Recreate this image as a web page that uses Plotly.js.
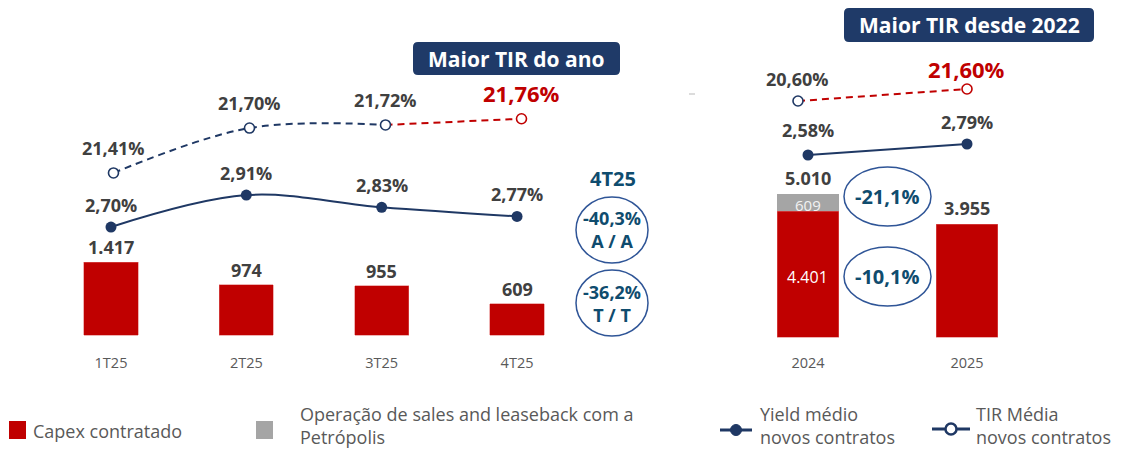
<!DOCTYPE html>
<html>
<head>
<meta charset="utf-8">
<script src="https://cdn.plot.ly/plotly-3.0.1.min.js"></script>
<style>html,body{margin:0;padding:0;background:#fff;}#chart{width:1126px;height:450px;}</style>
</head>
<body>
<div id="chart"></div>
<script>
// ---- data ----
const quarters = ['1T25', '2T25', '3T25', '4T25'];
const capexQ = [1417, 974, 955, 609];
const yieldQ = [2.70, 2.91, 2.83, 2.77];
const tirQ = [21.41, 21.70, 21.72, 21.76];

const years = ['2024', '2025'];
const capexY = [4401, 3955];
const leasebackY = [609, 0];
const yieldY = [2.58, 2.79];
const tirY = [20.60, 21.60];

const varQLabel = ['-40,3%', '-36,2%'];
const varQBasis = ['A / A', 'T / T'];
const varQTitle = '4T25';
const varYLabel = ['-21,1%', '-10,1%'];

const boxLeft = 'Maior TIR do ano';
const boxRight = 'Maior TIR desde 2022';

const legendNames = ['Capex contratado', 'Operação de sales and leaseback com a<br>Petrópolis',
                     'Yield médio<br>novos contratos', 'TIR Média<br>novos contratos'];

// ---- helpers ----
const W = 1126, H = 450;
const px = x => x / W;
const py = y => 1 - y / H;
const RED = '#C00000', GRAY = '#A5A5A5', NAVY = '#1F3864', DARK = '#404040', TEAL = '#0F4C6E', LEG = '#595959';
const FONT = '"Open Sans", "Noto Sans", sans-serif';

function fmtInt(v) { return String(Math.round(v)).replace(/\B(?=(\d{3})+(?!\d))/g, '.'); }
function fmtPct(v) { return v.toFixed(2).replace('.', ',') + '%'; }

function lab(x, y, xref, yref, text, opt) {
  opt = opt || {};
  return {
    x: x, y: y, xref: xref, yref: yref, text: text, showarrow: false,
    xanchor: opt.xanchor || 'center', yanchor: opt.yanchor || 'middle',
    yshift: opt.yshift || 0, xshift: opt.xshift || 0, align: opt.align || 'center',
    borderpad: 0,
    font: {family: FONT, size: opt.size || 18, color: opt.color || DARK, weight: opt.weight || 700}
  };
}

function roundRect(x0, y0, x1, y1, r) {
  const rx = r / W, ry = r / H;
  const X0 = px(x0), X1 = px(x1), Y0 = py(y0), Y1 = py(y1);
  return 'M' + (X0 + rx) + ',' + Y0 + ' L' + (X1 - rx) + ',' + Y0 +
    ' Q' + X1 + ',' + Y0 + ' ' + X1 + ',' + (Y0 - ry) +
    ' L' + X1 + ',' + (Y1 + ry) + ' Q' + X1 + ',' + Y1 + ' ' + (X1 - rx) + ',' + Y1 +
    ' L' + (X0 + rx) + ',' + Y1 + ' Q' + X0 + ',' + Y1 + ' ' + X0 + ',' + (Y1 + ry) +
    ' L' + X0 + ',' + (Y0 - ry) + ' Q' + X0 + ',' + Y0 + ' ' + (X0 + rx) + ',' + Y0 + ' Z';
}

// ---- traces ----
const traces = [];
traces.push({type: 'bar', x: quarters, y: capexQ, xaxis: 'x', yaxis: 'y', width: 0.4,
  marker: {color: RED, line: {color: '#E06666', width: 0.5}}, hoverinfo: 'skip'});
traces.push({type: 'bar', x: years, y: capexY, xaxis: 'x2', yaxis: 'y4', width: 0.385,
  marker: {color: RED, line: {color: '#E06666', width: 0.5}}, hoverinfo: 'skip'});
traces.push({type: 'bar', x: years, y: leasebackY, xaxis: 'x2', yaxis: 'y4', width: 0.385,
  marker: {color: GRAY}, hoverinfo: 'skip'});

traces.push({type: 'scatter', mode: 'lines+markers', x: quarters, y: yieldQ, xaxis: 'x', yaxis: 'y2',
  line: {color: NAVY, width: 2, shape: 'spline', smoothing: 1}, marker: {color: NAVY, size: 11}, cliponaxis: false, hoverinfo: 'skip'});

const lastQ = tirQ.length - 1;
traces.push({type: 'scatter', mode: 'lines', x: quarters.slice(0, lastQ), y: tirQ.slice(0, lastQ), xaxis: 'x3', yaxis: 'y3',
  line: {color: NAVY, width: 2, dash: '7px,5px', shape: 'spline', smoothing: 1}, hoverinfo: 'skip'});
traces.push({type: 'scatter', mode: 'lines', x: quarters.slice(lastQ - 1), y: tirQ.slice(lastQ - 1), xaxis: 'x3', yaxis: 'y3',
  line: {color: RED, width: 2, dash: '7px,5px'}, hoverinfo: 'skip'});
traces.push({type: 'scatter', mode: 'markers', x: quarters, y: tirQ, xaxis: 'x3', yaxis: 'y3', cliponaxis: false,
  marker: {color: '#FFFFFF', size: 10, line: {width: 1.6, color: tirQ.map((v, i) => i === lastQ ? RED : NAVY)}}, hoverinfo: 'skip'});

traces.push({type: 'scatter', mode: 'lines+markers', x: years, y: yieldY, xaxis: 'x2', yaxis: 'y5',
  line: {color: NAVY, width: 2}, marker: {color: NAVY, size: 11}, cliponaxis: false, hoverinfo: 'skip'});
traces.push({type: 'scatter', mode: 'lines', x: years, y: tirY, xaxis: 'x4', yaxis: 'y6',
  line: {color: RED, width: 2, dash: '7px,5px'}, hoverinfo: 'skip'});
traces.push({type: 'scatter', mode: 'markers', x: years, y: tirY, xaxis: 'x4', yaxis: 'y6', cliponaxis: false,
  marker: {color: '#FFFFFF', size: 10, line: {width: 1.6, color: tirY.map((v, i) => i === tirY.length - 1 ? RED : NAVY)}}, hoverinfo: 'skip'});

// ---- annotations ----
// (year categories look numeric, so annotations on the year axes use the category index)
const ann = [];
capexQ.forEach((v, i) => ann.push(lab(quarters[i], v, 'x', 'y', fmtInt(v), {yshift: 15})));
capexY.forEach((v, i) => {
  const tot = v + leasebackY[i];
  ann.push(lab(i, tot, 'x2', 'y4', fmtInt(tot), {yshift: 16}));
  if (leasebackY[i] > 0) {
    ann.push(lab(i, v + leasebackY[i] / 2, 'x2', 'y4', fmtInt(leasebackY[i]), {size: 15, weight: 400, color: '#F2F2F2', yshift: -2}));
    ann.push(lab(i, v / 2, 'x2', 'y4', fmtInt(v), {size: 16, weight: 400, color: '#FFFFFF', yshift: -3}));
  }
});
yieldQ.forEach((v, i) => ann.push(lab(quarters[i], v, 'x', 'y2', fmtPct(v), {yshift: 22})));
tirQ.forEach((v, i) => ann.push(i === lastQ
  ? lab(quarters[i], v, 'x3', 'y3', fmtPct(v), {yshift: 26, size: 22, color: RED})
  : lab(quarters[i], v, 'x3', 'y3', fmtPct(v), {yshift: 25})));
yieldY.forEach((v, i) => ann.push(lab(i, v, 'x2', 'y5', fmtPct(v), {yshift: i === 0 ? 25 : 22})));
tirY.forEach((v, i) => ann.push(i === tirY.length - 1
  ? lab(i, v, 'x4', 'y6', fmtPct(v), {yshift: 20, size: 22, color: RED})
  : lab(i, v, 'x4', 'y6', fmtPct(v), {yshift: 22})));

// variation callouts
ann.push(lab(px(613), py(178), 'paper', 'paper', varQTitle, {size: 20, color: TEAL}));
const qEll = [[197, 263], [270, 336]];
varQLabel.forEach((t, i) => {
  const cy = (qEll[i][0] + qEll[i][1]) / 2;
  ann.push(lab(px(612), py(cy), 'paper', 'paper', t + '<br>' + varQBasis[i], {size: 18, color: TEAL}));
});
const yEll = [[167, 226], [247, 306]];
varYLabel.forEach((t, i) => {
  const cy = (yEll[i][0] + yEll[i][1]) / 2;
  ann.push(lab(px(887), py(cy), 'paper', 'paper', t, {size: 20, color: TEAL}));
});

// header boxes
ann.push(lab(px(516.5), py(58.5), 'paper', 'paper', boxLeft, {size: 21, color: '#FFFFFF'}));
ann.push(lab(px(969), py(25), 'paper', 'paper', boxRight, {size: 21, color: '#FFFFFF'}));

// legend texts
const legOpt = {size: 18, weight: 400, color: LEG, xanchor: 'left', align: 'left'};
ann.push(lab(px(32), py(431), 'paper', 'paper', legendNames[0], legOpt));
const legBottom = Object.assign({}, legOpt, {yanchor: 'bottom'});
ann.push(lab(px(299), py(450), 'paper', 'paper', legendNames[1], legBottom));
ann.push(lab(px(759), py(450), 'paper', 'paper', legendNames[2], legBottom));
ann.push(lab(px(975), py(450), 'paper', 'paper', legendNames[3], legBottom));

// ---- shapes ----
const shapes = [];
function ell(x0, y0, x1, y1) {
  shapes.push({type: 'circle', xref: 'paper', yref: 'paper', x0: px(x0), x1: px(x1), y0: py(y1), y1: py(y0),
    line: {color: '#2F5597', width: 1.5}, fillcolor: 'rgba(0,0,0,0)'});
}
qEll.forEach(e => ell(576, e[0], 648, e[1]));
yEll.forEach(e => ell(844, e[0], 931, e[1]));
shapes.push({type: 'path', xref: 'paper', yref: 'paper', path: roundRect(413, 42, 620, 75, 5), fillcolor: '#1F3A68', line: {width: 0}});
shapes.push({type: 'path', xref: 'paper', yref: 'paper', path: roundRect(844, 8, 1094, 42, 5), fillcolor: '#1F3A68', line: {width: 0}});
shapes.push({type: 'line', xref: 'paper', yref: 'paper', x0: px(689), x1: px(695), y0: py(94), y1: py(94), line: {color: '#D0D0D0', width: 1.5}});
function rect(x0, y0, x1, y1, c) {
  shapes.push({type: 'rect', xref: 'paper', yref: 'paper', x0: px(x0), x1: px(x1), y0: py(y1), y1: py(y0), fillcolor: c, line: {width: 0}});
}
rect(9, 421, 26, 439, RED);
rect(256, 421, 273, 439, GRAY);
shapes.push({type: 'line', xref: 'paper', yref: 'paper', x0: px(720), x1: px(752), y0: py(430), y1: py(430), line: {color: NAVY, width: 3}});
shapes.push({type: 'circle', xref: 'paper', yref: 'paper', x0: px(730.5), x1: px(741.5), y0: py(435.5), y1: py(424.5), fillcolor: NAVY, line: {color: NAVY, width: 1}});
shapes.push({type: 'line', xref: 'paper', yref: 'paper', x0: px(932), x1: px(970), y0: py(429), y1: py(429), line: {color: NAVY, width: 3}});
shapes.push({type: 'circle', xref: 'paper', yref: 'paper', x0: px(945.5), x1: px(956.5), y0: py(434.5), y1: py(423.5), fillcolor: '#FFFFFF', line: {color: NAVY, width: 2.5}});

// ---- axes ----
const yDom = [py(345), py(40)];
const hidden = {visible: false, showgrid: false, zeroline: false, fixedrange: true};
const catAxis = (dom, anchor, cats, range) => ({
  type: 'category', categoryarray: cats, domain: dom, anchor: anchor, range: range,
  showgrid: false, zeroline: false, showline: false, ticks: 'outside', ticklen: 5, tickcolor: 'rgba(0,0,0,0)',
  tickfont: {family: FONT, size: 14.5, color: LEG}, fixedrange: true
});

const layout = {
  width: W, height: H, margin: {l: 0, r: 0, t: 0, b: 0},
  paper_bgcolor: '#FFFFFF', plot_bgcolor: 'rgba(0,0,0,0)', showlegend: false, barmode: 'stack',
  font: {family: FONT},
  xaxis: catAxis([px(43.3), px(584.7)], 'y', quarters, [-0.5, 3.5]),
  xaxis2: catAxis([px(728.5), px(1046.5)], 'y4', years, [-0.5, 1.5]),
  xaxis3: Object.assign({}, hidden, {type: 'category', categoryarray: quarters, overlaying: 'x', range: [-0.516, 3.4647], anchor: 'y3'}),
  xaxis4: Object.assign({}, hidden, {type: 'category', categoryarray: years, overlaying: 'x2', range: [-0.4112, 1.4704], anchor: 'y6'}),
  yaxis: Object.assign({}, hidden, {domain: yDom, anchor: 'x', range: [-194.2, 5728]}),
  yaxis2: Object.assign({}, hidden, {overlaying: 'y', anchor: 'x', range: [1.924, 3.9303]}),
  yaxis3: Object.assign({}, hidden, {overlaying: 'y', anchor: 'x3', range: [20.300, 22.268]}),
  yaxis4: Object.assign({}, hidden, {domain: yDom, anchor: 'x2', range: [-280.3, 10406]}),
  yaxis5: Object.assign({}, hidden, {overlaying: 'y4', anchor: 'x2', range: [-1.047, 4.7755]}),
  yaxis6: Object.assign({}, hidden, {overlaying: 'y4', anchor: 'x4', range: [0.267, 25.683]}),
  annotations: ann, shapes: shapes
};

Plotly.newPlot('chart', traces, layout, {displayModeBar: false, staticPlot: true});
</script>
</body>
</html>
